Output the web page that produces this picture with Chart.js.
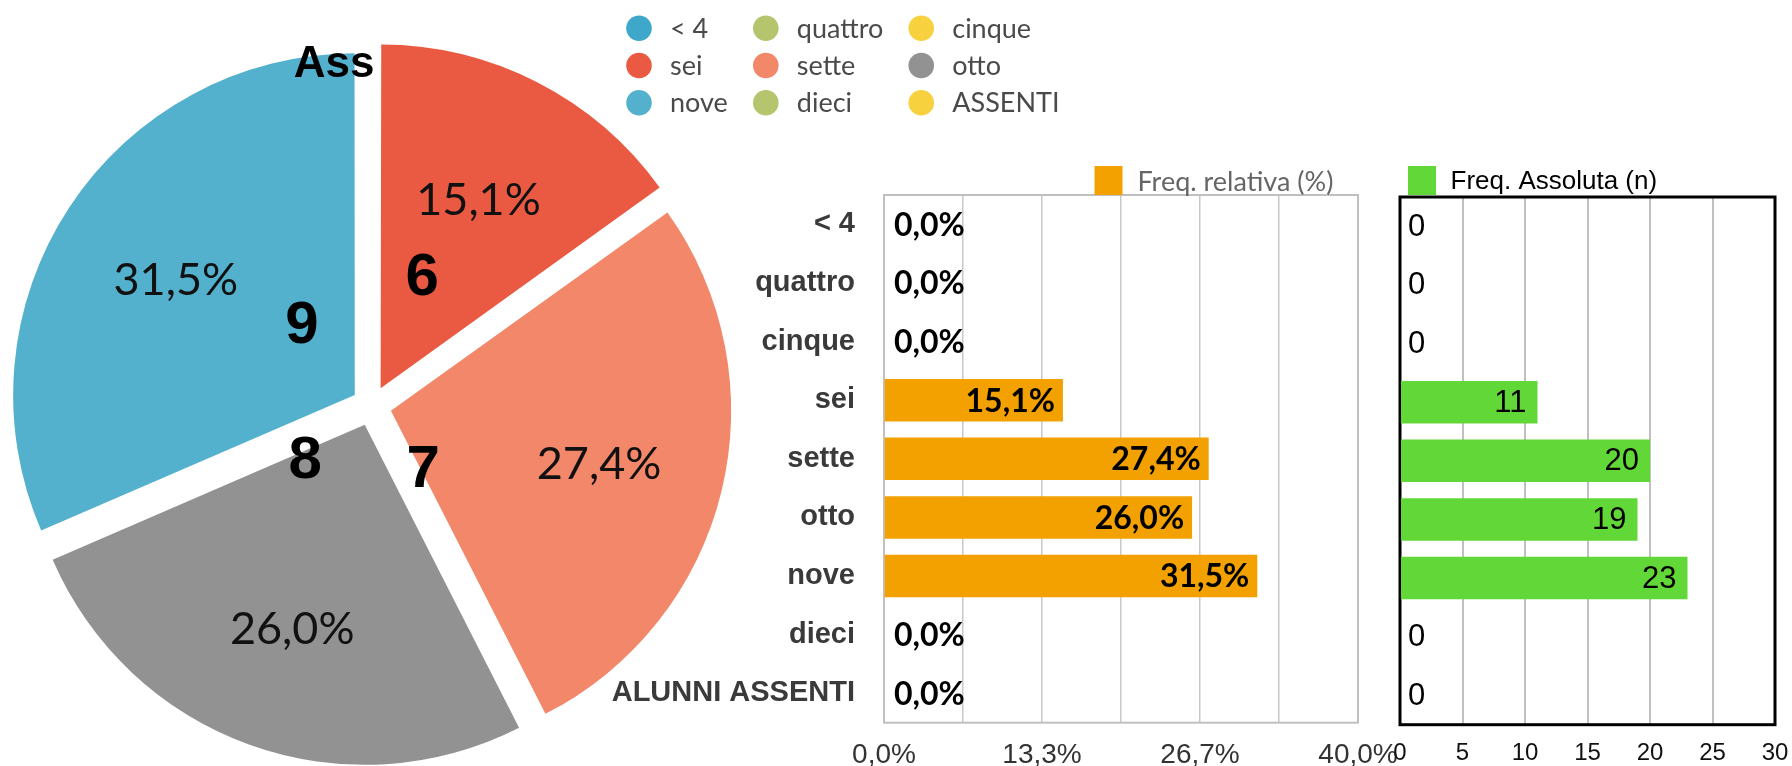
<!DOCTYPE html>
<html>
<head>
<meta charset="utf-8">
<script src="https://cdn.jsdelivr.net/npm/chart.js@4.4.1/dist/chart.umd.min.js"></script>
<style>
	html, body { margin: 0; padding: 0; background: #fff; }
	body { width: 1792px; height: 766px; position: relative; overflow: hidden; }
	.box { position: absolute; }
</style>
</head>
<body>
<div class="box" style="left:0;top:0;width:1100px;height:766px;z-index:1"><canvas id="torta"></canvas></div>
<div class="box" style="left:560px;top:140px;width:860px;height:626px;z-index:2"><canvas id="relativa"></canvas></div>
<div class="box" style="left:1360px;top:140px;width:447px;height:626px;z-index:3"><canvas id="assoluta"></canvas></div>
<script>
	// Dati
	var categorie = ['< 4', 'quattro', 'cinque', 'sei', 'sette', 'otto', 'nove', 'dieci', 'ALUNNI ASSENTI'];
	var legendaTorta = ['< 4', 'quattro', 'cinque', 'sei', 'sette', 'otto', 'nove', 'dieci', 'ASSENTI'];
	var votiTorta = ['', '', '', '6', '7', '8', '9', '', 'Ass'];
	var freqRelativa = [0, 0, 0, 15.1, 27.4, 26.0, 31.5, 0, 0];
	var freqAssoluta = [0, 0, 0, 11, 20, 19, 23, 0, 0];
	var tickRelativa = ['0,0%', '', '13,3%', '', '26,7%', '', '40,0%'];
	var tickAssoluta = ['0', '5', '10', '15', '20', '25', '30'];

	// Stili
	var coloriTorta = ['#3fa7c9', '#b4c56e', '#f8d13f', '#ea5a42', '#f38769', '#929292', '#53b1ce', '#b4c56e', '#f8d13f'];
	var posVoti = [null, null, null,
		{ f: 0.37, r: 0.355, dy: 4 }, { f: 0.97, r: 0.19, dy: 4 }, { f: 0.94, r: 0.2, dy: 4 }, { f: 0.69, r: 0.27, dy: 6 },
		null, { f: 0.5, r: 0.945, dy: 0, dx: 3, align: 'right' }];

	function virgola(v) {
		return v.toFixed(1).replace('.', ',') + '%';
	}

	// etichette della torta (percentuale + voto)
	var etichetteTorta = {
		id: 'etichetteTorta',
		afterDatasetsDraw: function(chart) {
			var ctx = chart.ctx;
			var meta = chart.getDatasetMeta(0);
			ctx.save();
			meta.data.forEach(function(arc, i) {
				var p = arc.getProps(['x', 'y', 'startAngle', 'endAngle', 'outerRadius']);
				var mid = (p.startAngle + p.endAngle) / 2;
				var sp = (arc.options.offset || 0) / 4;
				var cx = p.x + Math.cos(mid) * sp;
				var cy = p.y + Math.sin(mid) * sp;
				var v = freqRelativa[i];
				ctx.textBaseline = 'middle';
				if (v > 0) {
					ctx.font = '400 45px Lato, "Open Sans", sans-serif';
					ctx.fillStyle = '#111';
					ctx.textAlign = 'center';
					ctx.fillText(virgola(v), cx + Math.cos(mid) * p.outerRadius * 0.63, cy + Math.sin(mid) * p.outerRadius * 0.63 + 3);
				}
				var pos = posVoti[i];
				if (pos && votiTorta[i]) {
					var a = p.startAngle + pos.f * (p.endAngle - p.startAngle);
					ctx.font = (i === 8 ? 'bold 44px' : 'bold 60px') + ' "Liberation Sans", Arial, sans-serif';
					ctx.fillStyle = '#000';
					ctx.textAlign = pos.align || 'center';
					ctx.fillText(votiTorta[i], cx + Math.cos(a) * p.outerRadius * pos.r + (pos.dx || 0), cy + Math.sin(a) * p.outerRadius * pos.r + pos.dy);
				}
			});
			ctx.restore();
		}
	};

	// legenda a griglia (3 colonne)
	var legendaGriglia = {
		id: 'legendaGriglia',
		afterDraw: function(chart) {
			var ctx = chart.ctx;
			var labels = chart.data.labels;
			var colori = chart.data.datasets[0].backgroundColor;
			var cols = 3, x0 = 639, y0 = 28.3, passo = 37.2, raggio = 12.8, dx = 31, gap = 38;
			ctx.save();
			ctx.font = '400 27px Lato, "Open Sans", sans-serif';
			var larghezze = [];
			for (var c = 0; c < cols; c++) {
				var w = 0;
				for (var i = c; i < labels.length; i += cols) {
					w = Math.max(w, ctx.measureText(labels[i]).width);
				}
				larghezze.push(w);
			}
			var xs = [x0];
			for (var c2 = 1; c2 < cols; c2++) {
				xs.push(xs[c2 - 1] + dx + larghezze[c2 - 1] + gap);
			}
			labels.forEach(function(t, i) {
				var col = i % cols, row = Math.floor(i / cols);
				var x = xs[col], y = y0 + row * passo;
				ctx.fillStyle = colori[i];
				ctx.beginPath();
				ctx.arc(x, y, raggio, 0, Math.PI * 2);
				ctx.fill();
				ctx.fillStyle = '#4a4a4a';
				ctx.textAlign = 'left';
				ctx.textBaseline = 'middle';
				ctx.fillText(t, x + dx, y + 1);
			});
			ctx.restore();
		}
	};

	// cornice dell'area del grafico
	var cornice = {
		id: 'cornice',
		beforeDatasetsDraw: function(chart, args, opts) {
			var a = chart.chartArea;
			var ctx = chart.ctx;
			ctx.save();
			ctx.strokeStyle = opts.color;
			ctx.lineWidth = opts.width;
			ctx.strokeRect(a.left, a.top, a.right - a.left, a.bottom - a.top);
			ctx.restore();
		}
	};

	// valori sulle barre
	var valoriBarre = {
		id: 'valoriBarre',
		afterDatasetsDraw: function(chart, args, opts) {
			var ctx = chart.ctx;
			var meta = chart.getDatasetMeta(0);
			var dati = chart.data.datasets[0].data;
			ctx.save();
			ctx.font = opts.font;
			ctx.fillStyle = '#000';
			ctx.textBaseline = 'middle';
			meta.data.forEach(function(bar, i) {
				var v = dati[i];
				var t = opts.format(v);
				if (v > 0) {
					ctx.textAlign = 'right';
					ctx.fillText(t, bar.x - opts.dentro, bar.y + 1);
				} else {
					ctx.textAlign = 'left';
					ctx.fillText(t, bar.base + opts.fuori, bar.y + 1);
				}
			});
			ctx.restore();
		}
	};

	// legenda semplice per i grafici a barre
	var legendaBarre = {
		id: 'legendaBarre',
		afterDraw: function(chart, args, opts) {
			var ctx = chart.ctx;
			ctx.save();
			ctx.fillStyle = chart.data.datasets[0].backgroundColor;
			ctx.fillRect(opts.x, opts.y, 28, 29);
			ctx.font = opts.font;
			ctx.fillStyle = opts.color;
			ctx.textAlign = 'left';
			ctx.textBaseline = 'middle';
			ctx.fillText(chart.data.datasets[0].label, opts.x + opts.dx, opts.y + 16);
			ctx.restore();
		}
	};

	Chart.defaults.font.family = '"Liberation Sans", Arial, sans-serif';

	new Chart(document.getElementById('torta'), {
		type: 'pie',
		data: {
			labels: legendaTorta,
			datasets: [{
				data: freqRelativa,
				backgroundColor: coloriTorta,
				borderWidth: 0,
				offset: 80
			}]
		},
		options: {
			responsive: true,
			maintainAspectRatio: false,
			animation: false,
			radius: 340,
			layout: { padding: { left: 0, right: 357, top: 46, bottom: 0 } },
			plugins: { legend: { display: false }, tooltip: { enabled: false } }
		},
		plugins: [etichetteTorta, legendaGriglia]
	});

	new Chart(document.getElementById('relativa'), {
		type: 'bar',
		data: {
			labels: categorie,
			datasets: [{
				label: 'Freq. relativa (%)',
				data: freqRelativa,
				backgroundColor: '#f2a100',
				borderWidth: 0,
				barPercentage: 0.725,
				categoryPercentage: 1
			}]
		},
		options: {
			indexAxis: 'y',
			responsive: true,
			maintainAspectRatio: false,
			animation: false,
			layout: { padding: { left: 0, right: 62, top: 55, bottom: 0 } },
			scales: {
				x: {
					min: 0,
					max: 40,
					ticks: {
						count: 7,
						autoSkip: false,
						maxRotation: 0,
						padding: 16,
						color: '#333',
						font: { size: 28 },
						callback: function(v, i) { return tickRelativa[i]; }
					},
					grid: { color: '#c8c8c8', lineWidth: 1.5, drawTicks: false },
					border: { display: false },
					afterFit: function(s) { s.height = 43.3; }
				},
				y: {
					ticks: { padding: 21, color: '#3a3a3a', font: { size: 29, weight: 'bold' } },
					grid: { display: false },
					border: { display: false },
					afterFit: function(s) { s.width = 324; }
				}
			},
			plugins: {
				legend: { display: false },
				tooltip: { enabled: false },
				cornice: { color: '#c0c0c0', width: 2 },
				valoriBarre: { font: 'bold 32px Lato, sans-serif', dentro: 8, fuori: 10, format: virgola },
				legendaBarre: { x: 534.5, y: 26, dx: 43, font: '400 27px Lato, sans-serif', color: '#666' }
			}
		},
		plugins: [cornice, valoriBarre, legendaBarre]
	});

	new Chart(document.getElementById('assoluta'), {
		type: 'bar',
		data: {
			labels: categorie,
			datasets: [{
				label: 'Freq. Assoluta (n)',
				data: freqAssoluta,
				backgroundColor: '#62d838',
				borderWidth: 0,
				barPercentage: 0.725,
				categoryPercentage: 1
			}]
		},
		options: {
			indexAxis: 'y',
			responsive: true,
			maintainAspectRatio: false,
			animation: false,
			layout: { padding: { left: 40, right: 32, top: 57, bottom: 0 } },
			scales: {
				x: {
					min: 0,
					max: 30,
					ticks: {
						stepSize: 5,
						autoSkip: false,
						maxRotation: 0,
						padding: 14,
						color: '#111',
						font: { size: 24 },
						callback: function(v, i) { return tickAssoluta[i]; }
					},
					grid: { color: '#c0c0c0', lineWidth: 2, drawTicks: false },
					border: { display: false },
					afterFit: function(s) { s.height = 41.3; }
				},
				y: { display: false }
			},
			plugins: {
				legend: { display: false },
				tooltip: { enabled: false },
				cornice: { color: '#000', width: 3 },
				valoriBarre: { font: '31px "Liberation Sans", Arial, sans-serif', dentro: 11, fuori: 8, format: function(v) { return String(v); } },
				legendaBarre: { x: 48, y: 26, dx: 42.5, font: '26px "Liberation Sans", Arial, sans-serif', color: '#000' }
			}
		},
		plugins: [cornice, valoriBarre, legendaBarre]
	});
</script>
</body>
</html>
